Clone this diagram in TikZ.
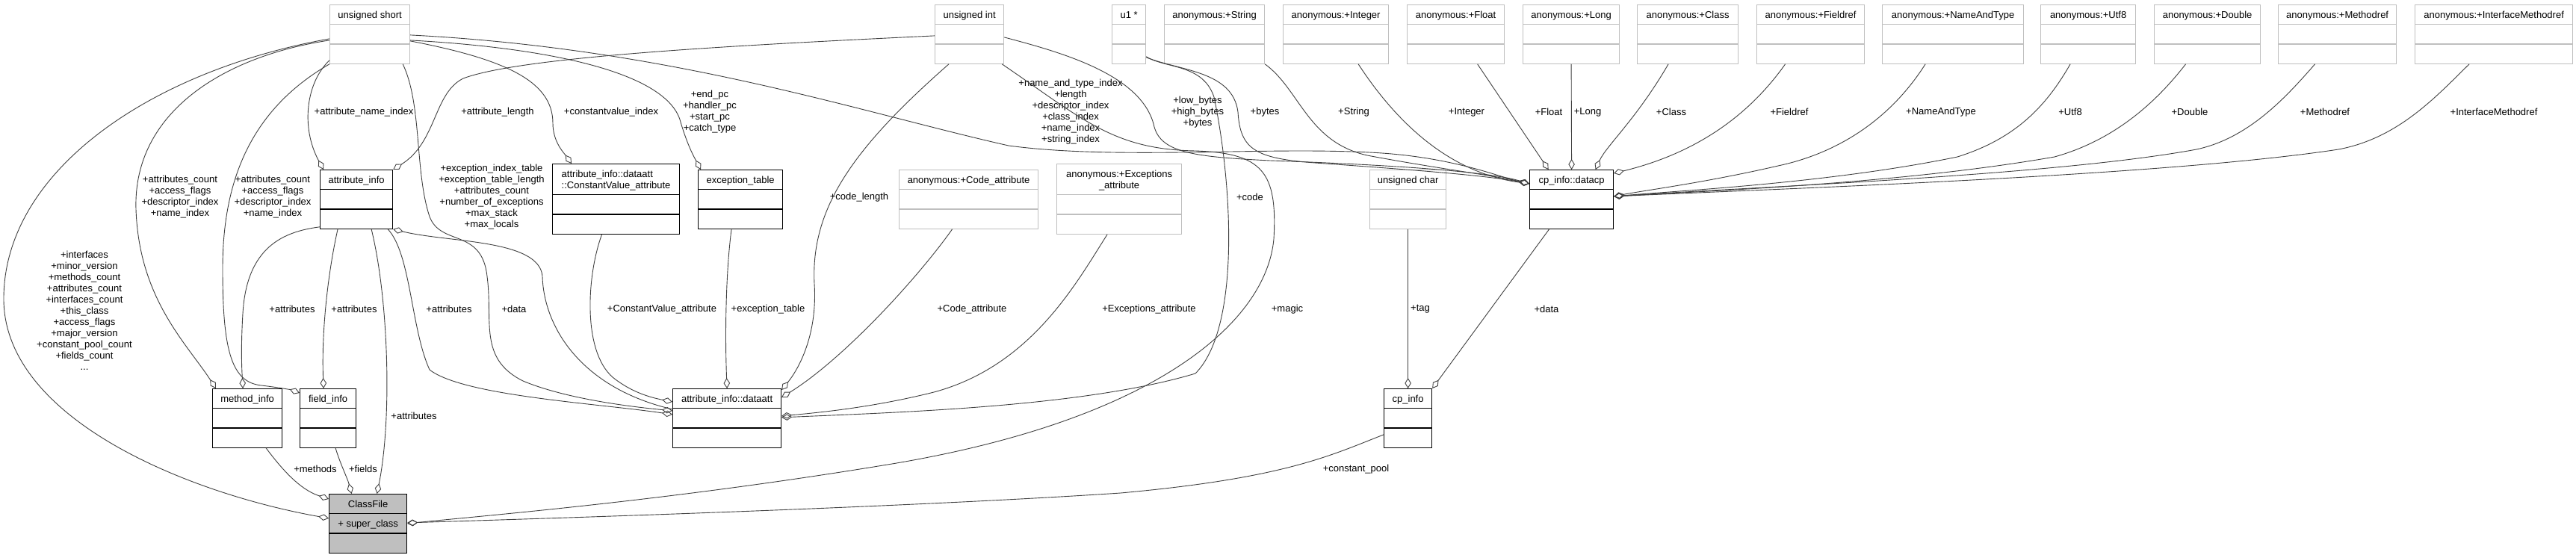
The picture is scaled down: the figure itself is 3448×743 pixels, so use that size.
\documentclass[tikz,border=0pt]{standalone}
\usepackage{fontspec}
\setmainfont{Liberation Sans}
\usetikzlibrary{arrows.meta,shapes.multipart}

\begin{document}
\begin{tikzpicture}[
  x=1pt,y=-1pt,
  link/.style={draw=black!75,line width=.9pt,
    -{Diamond[open,length=14pt,width=8.5pt]}},
  box/.style={rectangle split,rectangle split parts=3,anchor=north west,
    inner xsep=2pt,inner ysep=0pt,line width=1.2pt,fill=white,
    rectangle split empty part height=25pt,rectangle split empty part depth=0pt,
    font=\fontsize{13}{15}\selectfont,
    execute at begin node={\rule[-8pt]{0pt}{25pt}}},
  cls/.style={box,draw=black},
  ext/.style={box,draw=black!25},
  main/.style={box,draw=black,fill=black!25},
  lbl/.style={font=\fontsize{13}{15}\selectfont,align=center,inner sep=0pt}]

\useasboundingbox (0,0) rectangle (3448,743);

\node[ext,minimum width=107] (ushort) at (441,6) {unsigned short\nodepart{two}\nodepart{three}};
\node[ext,minimum width=92] (uint) at (1251,6) {unsigned int\nodepart{two}\nodepart{three}};
\node[ext,minimum width=45] (uone) at (1488,6) {u1 *\nodepart{two}\nodepart{three}};
\node[ext,minimum width=134] (aString) at (1558,6) {anonymous:+String\nodepart{two}\nodepart{three}};
\node[ext,minimum width=141] (aInteger) at (1717,6) {anonymous:+Integer\nodepart{two}\nodepart{three}};
\node[ext,minimum width=130] (aFloat) at (1883,6) {anonymous:+Float\nodepart{two}\nodepart{three}};
\node[ext,minimum width=129] (aLong) at (2038,6) {anonymous:+Long\nodepart{two}\nodepart{three}};
\node[ext,minimum width=135] (aClass) at (2191,6) {anonymous:+Class\nodepart{two}\nodepart{three}};
\node[ext,minimum width=144] (aFieldref) at (2351,6) {anonymous:+Fieldref\nodepart{two}\nodepart{three}};
\node[ext,minimum width=189] (aNameAndType) at (2519,6) {anonymous:+NameAndType\nodepart{two}\nodepart{three}};
\node[ext,minimum width=127] (aUtf) at (2731,6) {anonymous:+Utf8\nodepart{two}\nodepart{three}};
\node[ext,minimum width=142] (aDouble) at (2883,6) {anonymous:+Double\nodepart{two}\nodepart{three}};
\node[ext,minimum width=158] (aMethodref) at (3049,6) {anonymous:+Methodref\nodepart{two}\nodepart{three}};
\node[ext,minimum width=211] (aIfaceMethodref) at (3232,6) {anonymous:+InterfaceMethodref\nodepart{two}\nodepart{three}};

\node[cls,minimum width=97] (attrinfo) at (428,227) {attribute\_info\nodepart{two}\nodepart{three}};
\node[cls,minimum width=170] (cvattr) at (739,219)
  {\rule[-23pt]{0pt}{38pt}\begin{tabular}[t]{@{}l@{}}attribute\_info::dataatt\\::ConstantValue\_attribute\end{tabular}\nodepart{two}\nodepart{three}};
\node[cls,minimum width=113] (exctable) at (934,227) {exception\_table\nodepart{two}\nodepart{three}};
\node[ext,minimum width=186] (codeattr) at (1203,227) {anonymous:+Code\_attribute\nodepart{two}\nodepart{three}};
\node[ext,minimum width=167] (excattr) at (1414,219)
  {\rule[-23pt]{0pt}{38pt}\begin{tabular}[t]{@{}c@{}}anonymous:+Exceptions\\\_attribute\end{tabular}\nodepart{two}\nodepart{three}};
\node[ext,minimum width=102] (uchar) at (1833,227) {unsigned char\nodepart{two}\nodepart{three}};
\node[cls,minimum width=112] (datacp) at (2047,227) {cp\_info::datacp\nodepart{two}\nodepart{three}};

\node[cls,minimum width=93] (methodinfo) at (284,520) {method\_info\nodepart{two}\nodepart{three}};
\node[cls,minimum width=75] (fieldinfo) at (401,520) {field\_info\nodepart{two}\nodepart{three}};
\node[cls,minimum width=145] (dataatt) at (900,520) {attribute\_info::dataatt\nodepart{two}\nodepart{three}};
\node[cls,minimum width=64] (cpinfo) at (1852,520) {cp\_info\nodepart{two}\nodepart{three}};

\node[main,minimum width=104] (classfile) at (440,661)
  {ClassFile\nodepart{two}+ super\_class\nodepart{three}};

\node[lbl] (lIfaces) at (113,416) {+interfaces\\+minor\_version\\+methods\_count\\+attributes\_count\\+interfaces\_count\\+this\_class\\+access\_flags\\+major\_version\\+constant\_pool\_count\\+fields\_count\\...};
\node[lbl] (lMethShort) at (241,264) {+attributes\_count\\+access\_flags\\+descriptor\_index\\+name\_index};
\node[lbl] (lFieldShort) at (365,264) {+attributes\_count\\+access\_flags\\+descriptor\_index\\+name\_index};
\node[lbl] (lNameIdx) at (487,150) {+attribute\_name\_index};
\node[lbl] (lAttrLen) at (666,150) {+attribute\_length};
\node[lbl] (lCvIdx) at (818,150) {+constantvalue\_index};
\node[lbl] (lExcGrp) at (658,264) {+exception\_index\_table\\+exception\_table\_length\\+attributes\_count\\+number\_of\_exceptions\\+max\_stack\\+max\_locals};
\node[lbl] (lPc) at (950,150) {+end\_pc\\+handler\_pc\\+start\_pc\\+catch\_type};
\node[lbl] (lCodeLen) at (1150,264) {+code\_length};
\node[lbl] (lCpIdx) at (1433,150) {+name\_and\_type\_index\\+length\\+descriptor\_index\\+class\_index\\+name\_index\\+string\_index};
\node[lbl] (lLowBytes) at (1603,150) {+low\_bytes\\+high\_bytes\\+bytes};
\node[lbl] (lBytes) at (1693,150) {+bytes};
\node[lbl] (lCode) at (1673,264) {+code};
\node[lbl] (lString) at (1812,150) {+String};
\node[lbl] (lInteger) at (1963,150) {+Integer};
\node[lbl] (lFloat) at (2073,150) {+Float};
\node[lbl] (lLong) at (2125,150) {+Long};
\node[lbl] (lClass) at (2237,150) {+Class};
\node[lbl] (lFieldref) at (2395,150) {+Fieldref};
\node[lbl] (lNameAndType) at (2598,150) {+NameAndType};
\node[lbl] (lUtf) at (2771,150) {+Utf8};
\node[lbl] (lDouble) at (2931,150) {+Double};
\node[lbl] (lMethodref) at (3112,150) {+Methodref};
\node[lbl] (lIfaceMethodref) at (3338,150) {+InterfaceMethodref};
\node[lbl] (lMethAttr) at (391,414) {+attributes};
\node[lbl] (lFieldAttr) at (474,414) {+attributes};
\node[lbl] (lDataAttr) at (601,414) {+attributes};
\node[lbl] (lData) at (688,414) {+data};
\node[lbl] (lCvAttr) at (886,414) {+ConstantValue\_attribute};
\node[lbl] (lExcTable) at (1028,414) {+exception\_table};
\node[lbl] (lCodeAttr) at (1301,414) {+Code\_attribute};
\node[lbl] (lExcAttr) at (1538,414) {+Exceptions\_attribute};
\node[lbl] (lMagic) at (1723,414) {+magic};
\node[lbl] (lTag) at (1901,414) {+tag};
\node[lbl] (lCpData) at (2070,414) {+data};
\node[lbl] (lClassAttr) at (554,557) {+attributes};
\node[lbl] (lMethods) at (422,628) {+methods};
\node[lbl] (lFields) at (486,628) {+fields};
\node[lbl] (lPool) at (1815,628) {+constant\_pool};

\draw[link] ([yshift=-6pt]ushort.west) .. controls (200,95) and (5,230) .. (5,400)
  .. controls (5,560) and (250,660) .. ([yshift=7pt]classfile.west);
\draw[link] ([yshift=-8pt]ushort.west) .. controls (300,75) and (178,150) .. (182,280)
  .. controls (186,400) and (250,460) .. ([xshift=5pt]methodinfo.north west);
\draw[link] (ushort.south west) .. controls (330,150) and (298,250) .. (298,360)
  .. controls (298,470) and (310,512) .. (350,516)
  .. controls (375,519) and (390,522) .. ([yshift=-6pt]fieldinfo.north west);
\draw[link] ([yshift=5pt]ushort.south west) .. controls (410,110) and (402,170) .. ([xshift=5pt]attrinfo.north west);
\draw[link] ([xshift=-10pt]ushort.south east) .. controls (565,140) and (555,230) .. (575,290)
  .. controls (590,330) and (645,305) .. (652,370)
  .. controls (660,430) and (640,480) .. (700,510)
  .. controls (760,535) and (850,545) .. ([yshift=10pt]dataatt.west);
\draw[link] ([yshift=-9pt]ushort.east) .. controls (680,80) and (740,110) .. (740,165)
  .. controls (740,190) and (755,205) .. ([xshift=26pt]cvattr.north west);
\draw[link] ([yshift=-8pt]ushort.east) .. controls (750,65) and (890,100) .. (910,160)
  .. controls (920,195) and (930,212) .. ([xshift=4pt]exctable.north west);
\draw[link] ([yshift=-1pt]ushort.east) .. controls (900,65) and (1150,150) .. (1350,195)
  .. controls (1500,215) and (1700,195) .. (1850,205)
  .. controls (1950,212) and (2010,238) .. ([yshift=21pt]datacp.west);

\draw[link] ([yshift=3pt]attrinfo.south west) .. controls (380,310) and (330,330) .. (325,420)
  .. controls (322,470) and (324,500) .. ([xshift=-6pt]methodinfo.north);
\draw[link] ([xshift=-25pt]attrinfo.south) .. controls (440,360) and (430,440) .. ([xshift=-6pt]fieldinfo.north);
\draw[link] ([xshift=20pt]attrinfo.south) .. controls (520,400) and (525,560) .. ([xshift=12pt]classfile.north);
\draw[link] ([xshift=-7pt]attrinfo.south east) .. controls (550,340) and (550,440) .. (575,495)
  .. controls (620,530) and (800,540) .. ([yshift=5pt]dataatt.west);
\draw[link] ([yshift=12pt]dataatt.west) .. controls (780,520) and (728,440) .. (726,370)
  .. controls (722,320) and (600,325) .. (attrinfo.south east);

\draw[link] ([xshift=-19pt]cvattr.south) .. controls (785,370) and (780,470) .. (820,505)
  .. controls (845,525) and (870,532) .. ([yshift=22pt]dataatt.west);
\draw[link] ([xshift=-12pt]exctable.south) .. controls (972,360) and (970,440) .. (dataatt.north);
\draw[link] ([xshift=19pt]uint.south west) .. controls (1140,200) and (1085,280) .. (1090,380)
  .. controls (1095,460) and (1060,505) .. ([yshift=-2pt]dataatt.north east);
\draw[link] ([xshift=-22pt]codeattr.south) .. controls (1230,370) and (1130,480) .. ([yshift=-12pt]dataatt.north east);
\draw[link] ([xshift=-16pt]excattr.south) .. controls (1440,380) and (1380,490) .. (1250,525)
  .. controls (1170,545) and (1100,552) .. ([yshift=3pt]dataatt.east);
\draw[link] ([yshift=10pt]uone.south east) .. controls (1560,92) and (1610,85) .. (1625,130)
  .. controls (1650,250) and (1660,440) .. (1600,500)
  .. controls (1450,545) and (1200,552) .. ([yshift=1pt]dataatt.east);

\draw[link] ([yshift=-2pt]uint.west) .. controls (1000,60) and (700,75) .. (620,105)
  .. controls (580,125) and (585,190) .. (attrinfo.north east);
\draw[link] ([yshift=-4pt]uint.east) .. controls (1420,70) and (1530,100) .. (1545,170)
  .. controls (1555,205) and (1600,210) .. (1700,215)
  .. controls (1900,222) and (2000,232) .. ([yshift=21pt]datacp.west);
\draw[link] ([xshift=-3pt]uint.south east) .. controls (1450,160) and (1490,200) .. (1600,202)
  .. controls (1690,205) and (1710,230) .. (1705,320)
  .. controls (1695,430) and (1550,560) .. (1200,620)
  .. controls (900,670) and (650,690) .. (classfile.east);
\draw[link] ([yshift=9pt]uone.south east) .. controls (1580,95) and (1650,95) .. (1657,150)
  .. controls (1660,200) and (1680,212) .. (1760,218)
  .. controls (1900,228) and (1990,235) .. ([yshift=21pt]datacp.west);

\draw[link] (aString.south east) .. controls (1740,120) and (1750,190) .. (1830,208)
  .. controls (1920,225) and (2000,235) .. ([yshift=21pt]datacp.west);
\draw[link] ([xshift=30pt]aInteger.south) .. controls (1860,150) and (1930,230) .. ([yshift=21pt]datacp.west);
\draw[link] ([xshift=29pt]aFloat.south) -- ([xshift=-31pt]datacp.north);
\draw[link] (aLong.south) -- (datacp.north);
\draw[link] ([xshift=-26pt]aClass.south) .. controls (2190,160) and (2150,195) .. ([xshift=32pt]datacp.north);
\draw[link] ([xshift=-34pt]aFieldref.south) .. controls (2330,170) and (2250,210) .. ([yshift=-5pt]datacp.north east);
\draw[link] ([xshift=-37pt]aNameAndType.south) .. controls (2530,160) and (2460,205) .. (2380,222)
  .. controls (2280,245) and (2200,255) .. ([yshift=4pt]datacp.east);
\draw[link] ([xshift=-24pt]aUtf.south) .. controls (2740,140) and (2700,185) .. (2620,210)
  .. controls (2450,245) and (2250,255) .. ([yshift=4pt]datacp.east);
\draw[link] ([xshift=-29pt]aDouble.south) .. controls (2895,125) and (2840,185) .. (2750,210)
  .. controls (2550,245) and (2300,255) .. ([yshift=4pt]datacp.east);
\draw[link] ([xshift=-30pt]aMethodref.south) .. controls (3060,130) and (3010,185) .. (2940,200)
  .. controls (2750,235) and (2350,250) .. ([yshift=4pt]datacp.east);
\draw[link] ([xshift=-33pt]aIfaceMethodref.south) .. controls (3260,130) and (3210,185) .. (3130,200)
  .. controls (2900,235) and (2400,252) .. ([yshift=4pt]datacp.east);

\draw[link] (uchar.south) -- (cpinfo.north);
\draw[link] ([xshift=-30pt]datacp.south) -- (cpinfo.north east);
\draw[link] ([yshift=-22pt]cpinfo.west) .. controls (1780,610) and (1720,640) .. (1500,660)
  .. controls (1200,680) and (700,695) .. ([yshift=1pt]classfile.east);
\draw[link] ([xshift=25pt]methodinfo.south) .. controls (375,625) and (400,655) .. ([yshift=-7pt]classfile.north west);
\draw[link] ([xshift=10pt]fieldinfo.south) .. controls (455,620) and (465,640) .. ([xshift=-22pt]classfile.north);
\end{tikzpicture}
\end{document}
